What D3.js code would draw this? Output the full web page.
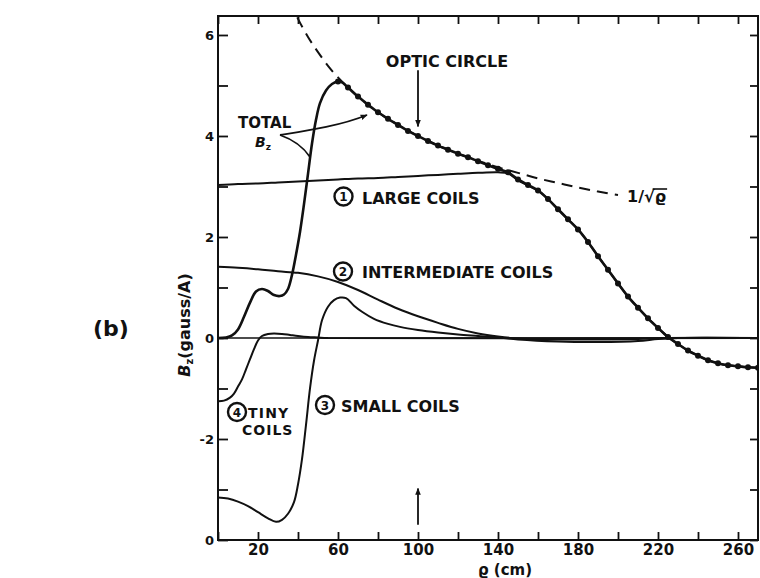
<!DOCTYPE html>
<html>
<head>
<meta charset="utf-8">
<script src="https://cdn.jsdelivr.net/npm/d3@7"></script>
<style>
  html, body { margin: 0; padding: 0; background: #fff; }
  svg { display: block; }
  text { font-family: "DejaVu Sans", sans-serif; font-weight: bold; fill: #111; }
</style>
</head>
<body>
<svg id="chart" width="760" height="578"></svg>
<script>
// Axial field B_z (gauss per ampere) versus radius rho (cm), per coil set.
const xTicks = [0, 20, 40, 60, 80, 100, 120, 140, 160, 180, 200, 220, 240, 260];
const xTickLabels = [20, 60, 100, 140, 180, 220, 260];
const yTicks = [-4, -3, -2, -1, 0, 1, 2, 3, 4, 5, 6];
const yTickLabels = [-2, 0, 2, 4, 6];
const opticCircle = 100;

const largeCoils = [[0,3.03],[10,3.05],[20,3.06],[30,3.08],[40,3.1],[50,3.12],[60,3.14],[70,3.16],[80,3.17],[90,3.19],[100,3.21],[110,3.23],[120,3.25],[130,3.27],[140,3.28],[145,3.26],[150,3.12],[155,3.02],[160,2.92],[165,2.75],[170,2.55],[175,2.35],[180,2.15],[185,1.9],[190,1.62],[195,1.35],[200,1.08],[205,0.82],[210,0.6],[215,0.39],[220,0.2],[225,0.02],[230,-0.12],[235,-0.25],[240,-0.35],[245,-0.44],[250,-0.5],[255,-0.54],[260,-0.56],[265,-0.58],[270,-0.59]];

const intermediateCoils = [[0,1.41],[10,1.39],[20,1.36],[30,1.32],[40,1.29],[50,1.22],[60,1.11],[70,0.95],[80,0.76],[90,0.58],[100,0.43],[110,0.3],[120,0.18],[130,0.09],[140,0.03],[150,-0.01],[170,-0.03],[190,-0.03],[210,-0.02],[225,0],[270,0]];

const smallCoils = [[0,-3.16],[5,-3.18],[10,-3.24],[15,-3.33],[20,-3.45],[25,-3.57],[29,-3.64],[32,-3.6],[35,-3.48],[38,-3.25],[40,-2.9],[42,-2.4],[44,-1.72],[46,-1.0],[48,-0.45],[50,-0.05],[52,0.35],[55,0.62],[58,0.75],[61,0.8],[64,0.79],[68,0.64],[72,0.52],[78,0.38],[85,0.28],[91,0.22],[100,0.16],[110,0.11],[120,0.07],[130,0.04],[140,0.01],[150,-0.03],[170,-0.07],[190,-0.08],[210,-0.06],[220,-0.02],[230,0],[270,0]];

const tinyCoils = [[0,-1.25],[3,-1.24],[6,-1.18],[8,-1.1],[10,-0.96],[12,-0.82],[14,-0.62],[16,-0.42],[18,-0.22],[20,-0.05],[22,0.04],[25,0.08],[28,0.09],[32,0.08],[36,0.06],[40,0.04],[45,0.02],[50,0.01],[55,0],[270,0]];

const totalBz = [[0,0],[4,0.01],[7,0.05],[10,0.17],[13,0.42],[16,0.7],[19,0.92],[22,0.97],[25,0.93],[28,0.85],[31,0.83],[33,0.86],[35,0.97],[37,1.25],[39,1.65],[41,2.1],[43,2.65],[45,3.25],[47,3.85],[49,4.32],[51,4.65],[54,4.9],[57,5.03],[60,5.08],[62,5.06],[65,4.96],[70,4.78],[75,4.62],[80,4.47],[85,4.34],[90,4.22],[95,4.1],[100,4.0],[105,3.9],[110,3.81],[115,3.73],[120,3.65],[125,3.58],[130,3.5],[135,3.42],[140,3.35],[145,3.28],[150,3.14],[155,3.03],[160,2.92],[165,2.75],[170,2.55],[175,2.35],[180,2.15],[185,1.9],[190,1.62],[195,1.35],[200,1.08],[205,0.82],[210,0.6],[215,0.39],[220,0.2],[225,0.02],[230,-0.12],[235,-0.25],[240,-0.35],[245,-0.44],[250,-0.5],[255,-0.54],[260,-0.56],[265,-0.58],[270,-0.59]];

// Inverse square-root reference curve, 1/sqrt(rho)
const invSqrtRho = [[36,6.67],[38,6.49],[40,6.32],[45,5.96],[50,5.66],[55,5.39],[60,5.16],[70,4.78],[80,4.47],[90,4.22],[100,4.0],[110,3.81],[120,3.65],[130,3.51],[140,3.38],[150,3.27],[160,3.16],[170,3.07],[180,2.98],[190,2.9],[200,2.83]];

const svg = d3.select("#chart");
const x = d3.scaleLinear().domain([0, 270]).range([218, 758]);
const y = d3.scaleLinear().domain([-4, 6.376]).range([540, 16]);
const ink = "#111";

svg.append("defs").append("clipPath").attr("id", "plot")
  .append("rect").attr("x", x(0)).attr("y", y(6.376))
  .attr("width", x(270) - x(0)).attr("height", y(-4) - y(6.376));

svg.select("defs").append("marker")
  .attr("id", "head").attr("viewBox", "0 0 10 10").attr("refX", 9).attr("refY", 5)
  .attr("markerWidth", 7).attr("markerHeight", 7).attr("markerUnits", "userSpaceOnUse")
  .attr("orient", "auto")
  .append("path").attr("d", "M0,1 L10,5 L0,9 Z").attr("fill", ink);

// Axes with inward ticks on all four sides
function styleAxis(g) {
  g.select(".domain").remove();
  g.selectAll(".tick line").attr("stroke", ink).attr("stroke-width", 1.8);
}
svg.append("g").attr("transform", `translate(0,${y(-4)})`)
  .call(d3.axisBottom(x).tickValues(xTicks).tickSizeInner(-8).tickSizeOuter(0).tickPadding(4)
    .tickFormat(d => xTickLabels.includes(d) ? d : ""))
  .call(styleAxis)
  .call(g => g.selectAll("text").attr("font-size", 15).attr("fill", ink)
    .attr("font-family", "DejaVu Sans").attr("font-weight", "bold"));
svg.append("g").attr("transform", `translate(0,${y(6.376)})`)
  .call(d3.axisTop(x).tickValues(xTicks).tickSizeInner(-8).tickSizeOuter(0).tickFormat(""))
  .call(styleAxis);
svg.append("g").attr("transform", `translate(${x(0)},0)`)
  .call(d3.axisLeft(y).tickValues(yTicks).tickSizeInner(-10).tickSizeOuter(0).tickPadding(4)
    .tickFormat(d => yTickLabels.includes(d) ? d : ""))
  .call(styleAxis)
  .call(g => g.selectAll("text").attr("font-size", 13).attr("fill", ink)
    .attr("font-family", "DejaVu Sans").attr("font-weight", "bold"));
svg.append("g").attr("transform", `translate(${x(270)},0)`)
  .call(d3.axisRight(y).tickValues(yTicks).tickSizeInner(-8).tickSizeOuter(0).tickFormat(""))
  .call(styleAxis);

// origin label at the lower-left corner
svg.append("text").attr("x", x(0) - 4).attr("y", y(-4) + 5)
  .attr("text-anchor", "end").attr("font-size", 13).text("0");

// frame
svg.append("rect").attr("x", x(0)).attr("y", y(6.376))
  .attr("width", x(270) - x(0)).attr("height", y(-4) - y(6.376))
  .attr("fill", "none").attr("stroke", ink).attr("stroke-width", 2);

const plot = svg.append("g").attr("clip-path", "url(#plot)");

// zero reference line
plot.append("line").attr("x1", x(0)).attr("x2", x(270)).attr("y1", y(0)).attr("y2", y(0))
  .attr("stroke", ink).attr("stroke-width", 1.4);

const line = d3.line().x(d => x(d[0])).y(d => y(d[1])).curve(d3.curveCatmullRom.alpha(0.5));

plot.append("path").datum(invSqrtRho).attr("d", line)
  .attr("fill", "none").attr("stroke", ink).attr("stroke-width", 2).attr("stroke-dasharray", "11,7");

[largeCoils, intermediateCoils, smallCoils, tinyCoils].forEach(s => {
  plot.append("path").datum(s).attr("d", line)
    .attr("fill", "none").attr("stroke", ink).attr("stroke-width", 2);
});

plot.append("path").datum(totalBz).attr("d", line)
  .attr("fill", "none").attr("stroke", ink).attr("stroke-width", 2.6);
plot.selectAll("circle.pt").data(totalBz.filter(d => d[0] >= 60 && d[0] % 5 === 0)).join("circle")
  .attr("class", "pt").attr("cx", d => x(d[0])).attr("cy", d => y(d[1])).attr("r", 3)
  .attr("fill", ink);

// optic-circle markers
svg.append("line").attr("x1", x(opticCircle)).attr("x2", x(opticCircle))
  .attr("y1", y(5.3)).attr("y2", y(4.19))
  .attr("stroke", ink).attr("stroke-width", 1.8).attr("marker-end", "url(#head)");
svg.append("line").attr("x1", x(opticCircle)).attr("x2", x(opticCircle))
  .attr("y1", y(-3.7)).attr("y2", y(-2.98))
  .attr("stroke", ink).attr("stroke-width", 1.8).attr("marker-end", "url(#head)");
svg.append("text").attr("x", 447).attr("y", 67).attr("text-anchor", "middle")
  .attr("font-size", 16).text("OPTIC CIRCLE");

// TOTAL B_z label with leaders
svg.append("text").attr("x", 238).attr("y", 128).attr("font-size", 15).text("TOTAL");
const bz = svg.append("text").attr("x", 255).attr("y", 147).attr("font-size", 14);
bz.append("tspan").attr("font-style", "italic").text("B");
bz.append("tspan").attr("font-size", 9).attr("dy", 3).text("z");
svg.append("path").attr("d", "M280,135 C305,131 340,126 367,115")
  .attr("fill", "none").attr("stroke", ink).attr("stroke-width", 1.8).attr("marker-end", "url(#head)");
svg.append("path").attr("d", "M280,135 Q300,142 310,157")
  .attr("fill", "none").attr("stroke", ink).attr("stroke-width", 1.8);

// circled coil numbers and names
function circled(cx, cy, n) {
  svg.append("circle").attr("cx", cx).attr("cy", cy).attr("r", 9)
    .attr("fill", "none").attr("stroke", ink).attr("stroke-width", 2.4);
  svg.append("text").attr("x", cx).attr("y", cy + 4.5).attr("text-anchor", "middle")
    .attr("font-size", 12).text(n);
}
circled(343.5, 196.5, "1");
svg.append("text").attr("x", 362).attr("y", 204).attr("font-size", 16).text("LARGE COILS");
circled(343, 271.5, "2");
svg.append("text").attr("x", 362).attr("y", 278).attr("font-size", 16).text("INTERMEDIATE COILS");
circled(325, 405, "3");
svg.append("text").attr("x", 341).attr("y", 412).attr("font-size", 16).text("SMALL COILS");
circled(237, 412, "4");
svg.append("text").attr("x", 248).attr("y", 418).attr("font-size", 14)
  .attr("letter-spacing", 1.2).text("TINY");
svg.append("text").attr("x", 242).attr("y", 435).attr("font-size", 14)
  .attr("letter-spacing", 1).text("COILS");

// 1/sqrt(rho) label
const inv = svg.append("text").attr("x", 627).attr("y", 202).attr("font-size", 16).text("1/√ϱ");
const node = inv.node();
const ovStart = 627 + node.getSubStringLength(0, 3) - 2;
const ovEnd = 627 + node.getComputedTextLength() + 1;
svg.append("line").attr("x1", ovStart).attr("x2", ovEnd).attr("y1", 189).attr("y2", 189)
  .attr("stroke", ink).attr("stroke-width", 1.6);

// axis titles
const yl = svg.append("text").attr("transform", "translate(190,325) rotate(-90)")
  .attr("text-anchor", "middle").attr("font-size", 16);
yl.append("tspan").attr("font-style", "italic").text("B");
yl.append("tspan").attr("font-size", 10).attr("dy", 3).text("z");
yl.append("tspan").attr("dy", -3).text("(gauss/A)");

svg.append("text").attr("x", 505).attr("y", 575).attr("text-anchor", "middle")
  .attr("font-size", 15).text("ϱ (cm)");

svg.append("text").attr("x", 93).attr("y", 336).attr("font-size", 22)
  .attr("font-family", "DejaVu Serif").text("(b)");
</script>
</body>
</html>
